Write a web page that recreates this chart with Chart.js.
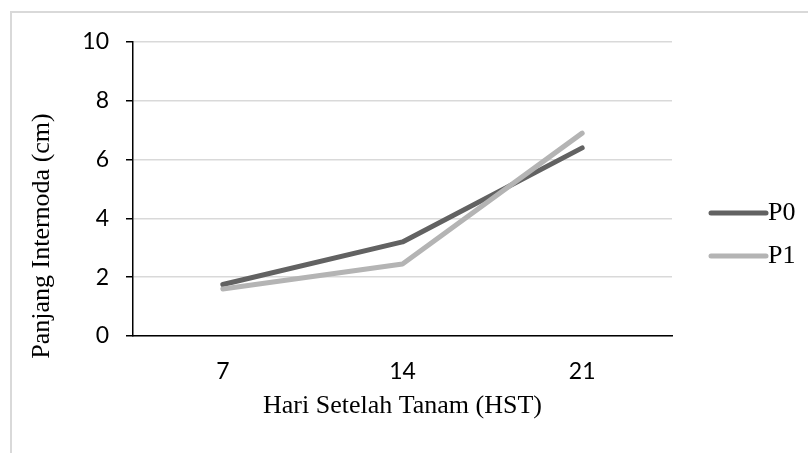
<!DOCTYPE html>
<html>
<head>
<meta charset="utf-8">
<script src="https://cdn.jsdelivr.net/npm/chart.js@4/dist/chart.umd.min.js"></script>
<style>
  html, body { margin: 0; padding: 0; background: #ffffff; }
  #wrap { width: 808px; height: 453px; position: relative; }
</style>
</head>
<body>
<div id="wrap"><canvas id="c" width="808" height="453"></canvas></div>
<script>
// Internode length (cm) by days after planting
const categories = ['7', '14', '21'];
const seriesNames = ['P0', 'P1'];
const p0Values = [1.75, 3.2, 6.4];
const p1Values = [1.6, 2.45, 6.9];
const yTicks = [0, 2, 4, 6, 8, 10];
const xTitle = 'Hari Setelah Tanam (HST)';
const yTitle = 'Panjang Internoda (cm)';

const serif = "'Liberation Serif', 'Times New Roman', serif";
const sans = "Lato, 'Open Sans', sans-serif";
const colors = ['#626262', '#b4b4b4'];

// light frame around the chart, running off the right and bottom edges
const framePlugin = {
  id: 'frame',
  beforeDraw(chart) {
    const ctx = chart.ctx;
    ctx.save();
    ctx.fillStyle = '#ffffff';
    ctx.fillRect(0, 0, chart.width, chart.height);
    ctx.strokeStyle = '#d9d9d9';
    ctx.lineWidth = 2;
    ctx.strokeRect(11, 12, 1000, 1000);
    ctx.restore();
  }
};

// vertical axis title, sitting a little below the middle of the plot
const yTitlePlugin = {
  id: 'yTitle',
  afterDraw(chart) {
    const ctx = chart.ctx;
    ctx.save();
    ctx.translate(42, 236);
    ctx.rotate(-Math.PI / 2);
    ctx.fillStyle = '#000000';
    ctx.font = '26px ' + serif;
    ctx.textAlign = 'center';
    ctx.textBaseline = 'middle';
    ctx.fillText(yTitle, 0, 0);
    ctx.restore();
  }
};

// legend on the right: a thick line sample followed by the series name
const sideLegend = {
  id: 'sideLegend',
  afterDraw(chart) {
    const ctx = chart.ctx;
    const x0 = 711, x1 = 766, rows = [213, 256];
    ctx.save();
    chart.data.datasets.forEach((ds, i) => {
      const y = rows[i];
      ctx.strokeStyle = ds.borderColor;
      ctx.lineWidth = 5;
      ctx.lineCap = 'round';
      ctx.beginPath();
      ctx.moveTo(x0, y);
      ctx.lineTo(x1, y);
      ctx.stroke();
      ctx.fillStyle = '#000000';
      ctx.font = '26px ' + serif;
      ctx.textBaseline = 'alphabetic';
      ctx.textAlign = 'left';
      ctx.fillText(ds.label, 768, y + 7);
    });
    ctx.restore();
  }
};

new Chart(document.getElementById('c'), {
  type: 'line',
  data: {
    labels: categories,
    datasets: [
      { label: seriesNames[0], data: p0Values, borderColor: colors[0], order: 1 },
      { label: seriesNames[1], data: p1Values, borderColor: colors[1], order: 0 }
    ]
  },
  options: {
    responsive: false,
    animation: false,
    devicePixelRatio: 1,
    layout: { padding: { left: 0, top: 42, right: 136, bottom: 0 } },
    elements: {
      line: { borderWidth: 5, tension: 0, borderCapStyle: 'round', borderJoinStyle: 'round', fill: false },
      point: { radius: 0, hoverRadius: 0 }
    },
    plugins: { legend: { display: false }, tooltip: { enabled: false } },
    scales: {
      x: {
        offset: true,
        grid: { display: false, drawTicks: false },
        border: { display: true, color: '#000000', width: 1.5 },
        ticks: { color: '#000000', font: { family: sans, size: 23 }, padding: 22 },
        title: {
          display: true,
          text: xTitle,
          color: '#000000',
          font: { family: serif, size: 26 },
          padding: { top: 0, bottom: 31 }
        },
        afterFit(scale) { scale.height = 117; }
      },
      y: {
        min: 0,
        max: 10,
        afterBuildTicks(scale) { scale.ticks = yTicks.map(v => ({ value: v })); },
        grid: { color: '#d9d9d9', lineWidth: 1.5, tickColor: '#000000', tickLength: 7, tickWidth: 1.5 },
        border: { display: true, color: '#000000', width: 1.5 },
        ticks: { color: '#000000', font: { family: sans, size: 23 }, padding: 17 },
        afterFit(scale) { scale.width = 133; }
      }
    }
  },
  plugins: [framePlugin, yTitlePlugin, sideLegend]
});
</script>
</body>
</html>
